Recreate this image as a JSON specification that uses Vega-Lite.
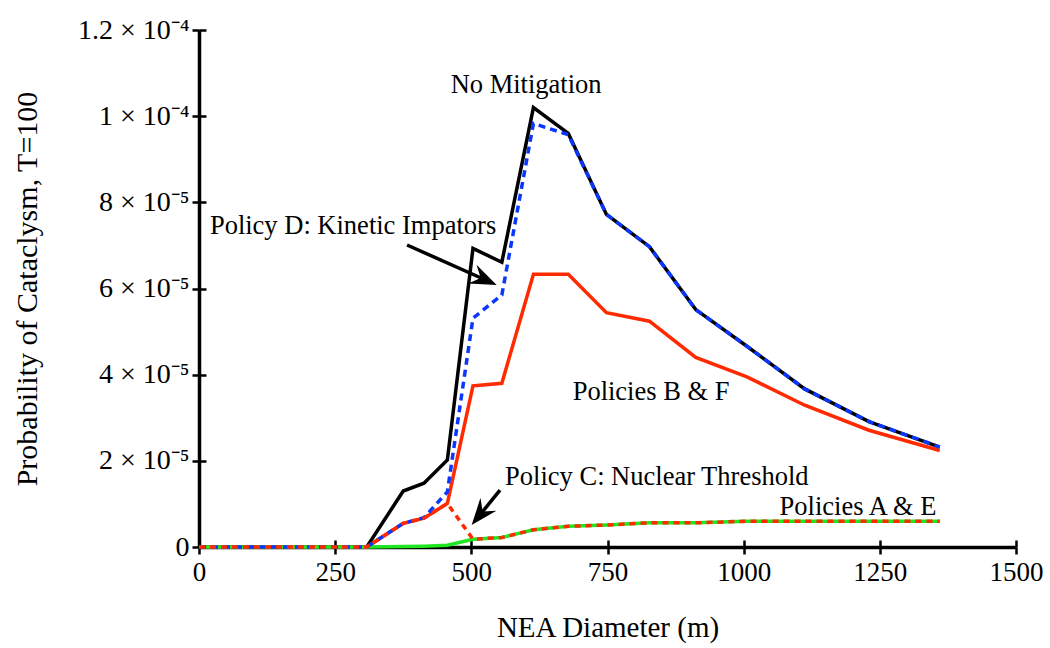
{
  "$schema": "https://vega.github.io/schema/vega-lite/v6.json",
  "width": 817,
  "height": 517,
  "autosize": {"type": "none"},
  "padding": {"left": 199, "top": 30, "right": 34, "bottom": 101},
  "background": "white",
  "config": {
    "font": "'Liberation Serif', Tinos, 'Times New Roman', Times, serif",
    "view": {"stroke": null},
    "axis": {
      "grid": false,
      "domainColor": "black",
      "domainWidth": 3.5,
      "tickColor": "black",
      "tickWidth": 2.5,
      "tickSize": 7,
      "labelColor": "black",
      "labelFont": "'Liberation Serif', Tinos, 'Times New Roman', Times, serif",
      "labelFontSize": 27,
      "titleFont": "'Liberation Serif', Tinos, 'Times New Roman', Times, serif",
      "titleFontSize": 29,
      "titleFontWeight": "normal",
      "titleColor": "black"
    }
  },
  "datasets": {
    "curves": [
      {"series": "No Mitigation", "d": 0, "p": 0},
      {"series": "No Mitigation", "d": 308, "p": 0},
      {"series": "No Mitigation", "d": 375, "p": 1.30e-5},
      {"series": "No Mitigation", "d": 413, "p": 1.48e-5},
      {"series": "No Mitigation", "d": 456, "p": 2.02e-5},
      {"series": "No Mitigation", "d": 503, "p": 6.93e-5},
      {"series": "No Mitigation", "d": 556, "p": 6.61e-5},
      {"series": "No Mitigation", "d": 614, "p": 1.020e-4},
      {"series": "No Mitigation", "d": 678, "p": 9.60e-5},
      {"series": "No Mitigation", "d": 748, "p": 7.72e-5},
      {"series": "No Mitigation", "d": 827, "p": 6.97e-5},
      {"series": "No Mitigation", "d": 912, "p": 5.51e-5},
      {"series": "No Mitigation", "d": 1006, "p": 4.66e-5},
      {"series": "No Mitigation", "d": 1112, "p": 3.67e-5},
      {"series": "No Mitigation", "d": 1230, "p": 2.91e-5},
      {"series": "No Mitigation", "d": 1360, "p": 2.32e-5},

      {"series": "Policies B & F", "d": 0, "p": 0},
      {"series": "Policies B & F", "d": 308, "p": 0},
      {"series": "Policies B & F", "d": 375, "p": 0.55e-5},
      {"series": "Policies B & F", "d": 413, "p": 0.67e-5},
      {"series": "Policies B & F", "d": 456, "p": 1.01e-5},
      {"series": "Policies B & F", "d": 503, "p": 3.74e-5},
      {"series": "Policies B & F", "d": 556, "p": 3.80e-5},
      {"series": "Policies B & F", "d": 614, "p": 6.33e-5},
      {"series": "Policies B & F", "d": 678, "p": 6.33e-5},
      {"series": "Policies B & F", "d": 748, "p": 5.44e-5},
      {"series": "Policies B & F", "d": 827, "p": 5.24e-5},
      {"series": "Policies B & F", "d": 912, "p": 4.40e-5},
      {"series": "Policies B & F", "d": 1006, "p": 3.95e-5},
      {"series": "Policies B & F", "d": 1112, "p": 3.29e-5},
      {"series": "Policies B & F", "d": 1230, "p": 2.71e-5},
      {"series": "Policies B & F", "d": 1360, "p": 2.24e-5},

      {"series": "Policies A & E", "d": 0, "p": 0},
      {"series": "Policies A & E", "d": 308, "p": 0},
      {"series": "Policies A & E", "d": 375, "p": 0.01e-5},
      {"series": "Policies A & E", "d": 413, "p": 0.02e-5},
      {"series": "Policies A & E", "d": 456, "p": 0.04e-5},
      {"series": "Policies A & E", "d": 503, "p": 0.18e-5},
      {"series": "Policies A & E", "d": 556, "p": 0.22e-5},
      {"series": "Policies A & E", "d": 614, "p": 0.40e-5},
      {"series": "Policies A & E", "d": 678, "p": 0.48e-5},
      {"series": "Policies A & E", "d": 748, "p": 0.51e-5},
      {"series": "Policies A & E", "d": 827, "p": 0.56e-5},
      {"series": "Policies A & E", "d": 912, "p": 0.56e-5},
      {"series": "Policies A & E", "d": 1006, "p": 0.60e-5},
      {"series": "Policies A & E", "d": 1112, "p": 0.60e-5},
      {"series": "Policies A & E", "d": 1230, "p": 0.60e-5},
      {"series": "Policies A & E", "d": 1360, "p": 0.60e-5},

      {"series": "Policy D", "d": 0, "p": 0},
      {"series": "Policy D", "d": 308, "p": 0},
      {"series": "Policy D", "d": 375, "p": 0.55e-5},
      {"series": "Policy D", "d": 413, "p": 0.68e-5},
      {"series": "Policy D", "d": 456, "p": 1.28e-5},
      {"series": "Policy D", "d": 503, "p": 5.31e-5},
      {"series": "Policy D", "d": 556, "p": 5.85e-5},
      {"series": "Policy D", "d": 614, "p": 9.83e-5},
      {"series": "Policy D", "d": 678, "p": 9.57e-5},
      {"series": "Policy D", "d": 748, "p": 7.72e-5},
      {"series": "Policy D", "d": 827, "p": 6.97e-5},
      {"series": "Policy D", "d": 912, "p": 5.51e-5},
      {"series": "Policy D", "d": 1006, "p": 4.66e-5},
      {"series": "Policy D", "d": 1112, "p": 3.67e-5},
      {"series": "Policy D", "d": 1230, "p": 2.91e-5},
      {"series": "Policy D", "d": 1360, "p": 2.32e-5},

      {"series": "Policy C", "d": 0, "p": 0},
      {"series": "Policy C", "d": 308, "p": 0},
      {"series": "Policy C", "d": 375, "p": 0.55e-5},
      {"series": "Policy C", "d": 413, "p": 0.67e-5},
      {"series": "Policy C", "d": 456, "p": 1.01e-5},
      {"series": "Policy C", "d": 503, "p": 0.18e-5},
      {"series": "Policy C", "d": 556, "p": 0.22e-5},
      {"series": "Policy C", "d": 614, "p": 0.40e-5},
      {"series": "Policy C", "d": 678, "p": 0.48e-5},
      {"series": "Policy C", "d": 748, "p": 0.51e-5},
      {"series": "Policy C", "d": 827, "p": 0.56e-5},
      {"series": "Policy C", "d": 912, "p": 0.56e-5},
      {"series": "Policy C", "d": 1006, "p": 0.60e-5},
      {"series": "Policy C", "d": 1112, "p": 0.60e-5},
      {"series": "Policy C", "d": 1230, "p": 0.60e-5},
      {"series": "Policy C", "d": 1360, "p": 0.60e-5}
    ],
    "notes": [
      {"label": "No Mitigation", "d": 462, "p": 10.53e-5},
      {"label": "Policy D: Kinetic Impators", "d": 20, "p": 7.26e-5},
      {"label": "Policies B & F", "d": 686, "p": 3.41e-5},
      {"label": "Policy C: Nuclear Threshold", "d": 562, "p": 1.44e-5},
      {"label": "Policies A & E", "d": 1066, "p": 0.74e-5}
    ],
    "arrows": [
      {"name": "D", "d": 382, "p": 7.01e-5, "d2": 522, "p2": 6.22e-5, "dt": 546.5, "pt": 6.08e-5},
      {"name": "C", "d": 552.6, "p": 1.32e-5, "d2": 518, "p2": 0.78e-5, "dt": 500.6, "pt": 0.51e-5}
    ]
  },
  "layer": [
    {
      "data": {"name": "curves"},
      "transform": [{"filter": "datum.series === 'No Mitigation'"}],
      "mark": {"type": "line", "color": "black", "strokeWidth": 3.5},
      "encoding": {
        "x": {"field": "d", "type": "quantitative",
          "scale": {"domain": [0, 1500], "nice": false, "zero": false},
          "axis": {"orient": "bottom", "values": [0, 250, 500, 750, 1000, 1250, 1500], "format": "d",
                   "title": "NEA Diameter (m)", "labelPadding": 5, "titlePadding": 28, "labelFlush": false}},
        "y": {"field": "p", "type": "quantitative",
          "scale": {"domain": [0, 1.2e-4], "nice": false, "zero": false},
          "axis": {"orient": "left", "values": [0, 2e-5, 4e-5, 6e-5, 8e-5, 1e-4, 1.2e-4],
                   "labelExpr": "['0','','2 × 10⁻⁵','','4 × 10⁻⁵','','6 × 10⁻⁵','','8 × 10⁻⁵','','1 × 10⁻⁴','','1.2 × 10⁻⁴'][round(datum.value*1e5)]",
                   "labelFontSize": 28,
                   "title": "Probability of Cataclysm, T=100", "titleFontSize": 30, "labelPadding": 3, "titlePadding": 35, "labelFlush": false}}
      }
    },
    {
      "data": {"name": "curves"},
      "transform": [{"filter": "datum.series === 'Policies B & F'"}],
      "mark": {"type": "line", "color": "#ff2a00", "strokeWidth": 3.5},
      "encoding": {
        "x": {"field": "d", "type": "quantitative",
          "axis": {"orient": "bottom", "values": [0, 250, 500, 750, 1000, 1250, 1500], "tickSize": -7, "labels": false, "domain": false, "title": null}},
        "y": {"field": "p", "type": "quantitative",
          "axis": {"orient": "left", "values": [0, 2e-5, 4e-5, 6e-5, 8e-5, 1e-4, 1.2e-4], "tickSize": -7, "labels": false, "domain": false, "title": null}}
      }
    },
    {
      "data": {"name": "curves"},
      "transform": [{"filter": "datum.series === 'Policies A & E'"}],
      "mark": {"type": "line", "color": "#1fe61f", "strokeWidth": 3.5},
      "encoding": {
        "x": {"field": "d", "type": "quantitative", "axis": null},
        "y": {"field": "p", "type": "quantitative", "axis": null}
      }
    },
    {
      "data": {"name": "curves"},
      "transform": [{"filter": "datum.series === 'Policy D'"}],
      "mark": {"type": "line", "color": "#0a37ff", "strokeWidth": 3.5, "strokeDash": [7, 5], "strokeCap": "butt"},
      "encoding": {
        "x": {"field": "d", "type": "quantitative", "axis": null},
        "y": {"field": "p", "type": "quantitative", "axis": null}
      }
    },
    {
      "data": {"name": "curves"},
      "transform": [{"filter": "datum.series === 'Policy C'"}],
      "mark": {"type": "line", "color": "#ff2a00", "strokeWidth": 3.5, "strokeDash": [6, 5], "strokeCap": "butt"},
      "encoding": {
        "x": {"field": "d", "type": "quantitative", "axis": null},
        "y": {"field": "p", "type": "quantitative", "axis": null}
      }
    },
    {
      "data": {"name": "notes"},
      "mark": {"type": "text", "font": "'Liberation Serif', Tinos, 'Times New Roman', Times, serif", "fontSize": 26.5, "align": "left", "baseline": "alphabetic", "color": "black"},
      "encoding": {
        "x": {"field": "d", "type": "quantitative", "axis": null},
        "y": {"field": "p", "type": "quantitative", "axis": null},
        "text": {"field": "label"}
      }
    },
    {
      "data": {"name": "arrows"},
      "mark": {"type": "rule", "color": "black", "strokeWidth": 3.5},
      "encoding": {
        "x": {"field": "d", "type": "quantitative", "axis": null},
        "y": {"field": "p", "type": "quantitative", "axis": null},
        "x2": {"field": "d2"},
        "y2": {"field": "p2"}
      }
    },
    {
      "data": {"name": "arrows"},
      "transform": [{"filter": "datum.name === 'D'"}],
      "mark": {"type": "point", "shape": "M0,0 L-2.6,-1.0 L-1.7,0 L-2.6,1.0 Z", "filled": true, "color": "black", "opacity": 1, "size": 420, "angle": 24},
      "encoding": {
        "x": {"field": "dt", "type": "quantitative", "axis": null},
        "y": {"field": "pt", "type": "quantitative", "axis": null}
      }
    },
    {
      "data": {"name": "arrows"},
      "transform": [{"filter": "datum.name === 'C'"}],
      "mark": {"type": "point", "shape": "M0,0 L-2.6,-1.0 L-1.7,0 L-2.6,1.0 Z", "filled": true, "color": "black", "opacity": 1, "size": 420, "angle": 129},
      "encoding": {
        "x": {"field": "dt", "type": "quantitative", "axis": null},
        "y": {"field": "pt", "type": "quantitative", "axis": null}
      }
    }
  ],
  "resolve": {"axis": {"x": "independent", "y": "independent"}}
}
